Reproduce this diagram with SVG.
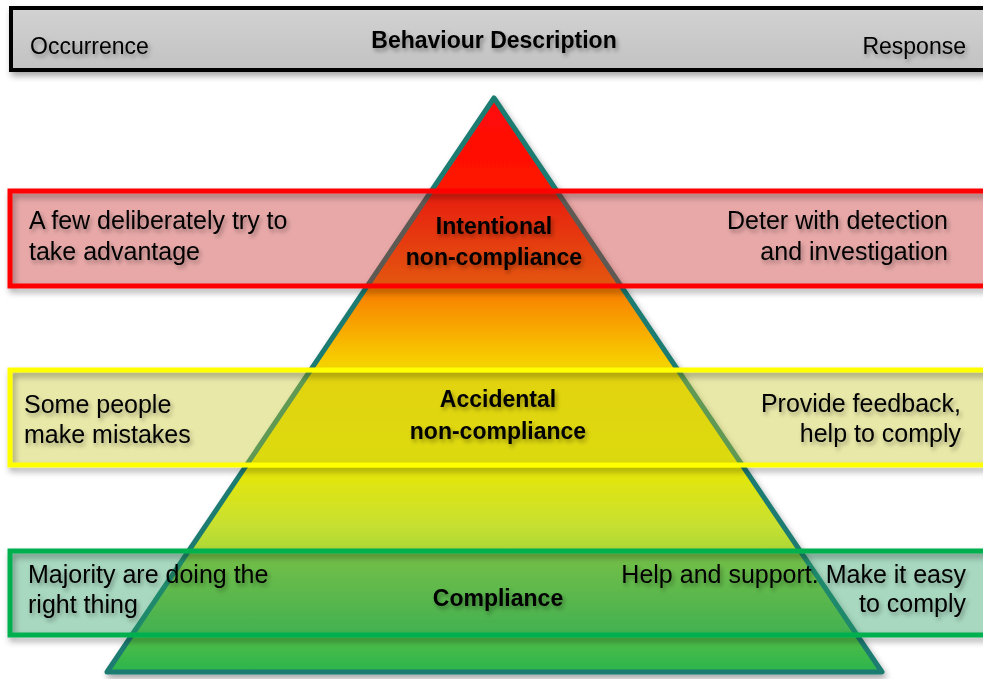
<svg xmlns="http://www.w3.org/2000/svg" width="983" height="679" viewBox="0 0 983 679">
  <defs>
    <style>
      .lbl { font-family: "Liberation Sans", Arial, sans-serif; font-size: 25px; fill: #000; filter: url(#textShadow); }
      .hdr { font-family: "Liberation Sans", Arial, sans-serif; font-size: 23px; fill: #000; filter: url(#textShadow); }
      .ctr { font-family: "Liberation Sans", Arial, sans-serif; font-size: 23px; font-weight: bold; fill: #000; text-anchor: middle; filter: url(#textShadow); }
      .end { text-anchor: end; }
      .frame { fill: none; stroke-width: 5; filter: url(#boxShadow); }
    </style>
    <filter id="textShadow" x="-10%" y="-40%" width="130%" height="200%">
      <feDropShadow dx="2" dy="3" stdDeviation="2" flood-color="#000" flood-opacity="0.35"/>
    </filter>
    <filter id="boxShadow" x="-5%" y="-20%" width="110%" height="150%">
      <feDropShadow dx="2" dy="4" stdDeviation="3" flood-color="#000" flood-opacity="0.35"/>
    </filter>
    <linearGradient id="pyramidFill" gradientUnits="userSpaceOnUse" x1="0" y1="96" x2="0" y2="674">
      <stop offset="0" stop-color="#ff0a0a"/>
      <stop offset="0.16" stop-color="#ff1400"/>
      <stop offset="0.33" stop-color="#f87a00"/>
      <stop offset="0.42" stop-color="#f8b400"/>
      <stop offset="0.48" stop-color="#f6dc00"/>
      <stop offset="0.63" stop-color="#ece800"/>
      <stop offset="0.74" stop-color="#c8e030"/>
      <stop offset="0.87" stop-color="#7cc840"/>
      <stop offset="1" stop-color="#28b44e"/>
    </linearGradient>
    <linearGradient id="headerFill" x1="0" y1="0" x2="0" y2="1">
      <stop offset="0" stop-color="#d2d2d2"/>
      <stop offset="1" stop-color="#c2c2c2"/>
    </linearGradient>
  </defs>

  <!-- header bar, running off the right edge -->
  <g id="header">
    <rect x="11" y="8" width="990" height="62" fill="url(#headerFill)" stroke="#000" stroke-width="4" filter="url(#boxShadow)"/>
    <text class="hdr" x="30" y="54">Occurrence</text>
    <text class="hdr" x="494" y="48" font-weight="bold" text-anchor="middle">Behaviour Description</text>
    <text class="hdr end" x="966" y="54">Response</text>
  </g>

  <!-- pyramid -->
  <g id="pyramid">
    <path d="M494,98 L882,672 L107,672 Z" fill="url(#pyramidFill)" stroke="#1d7b72" stroke-width="5" stroke-linejoin="round" filter="url(#boxShadow)"/>
  </g>

  <!-- intentional non-compliance band -->
  <g id="band-intentional">
    <rect x="10" y="191" width="990" height="95" fill="rgb(197,38,38)" fill-opacity="0.4"/>
    <rect class="frame" x="10" y="191" width="990" height="95" stroke="#ff0000"/>
    <text class="lbl" x="29" y="229">A few deliberately try to</text>
    <text class="lbl" x="29" y="260">take advantage</text>
    <text class="lbl end" x="948" y="229">Deter with detection</text>
    <text class="lbl end" x="948" y="260">and investigation</text>
    <text class="ctr" x="494" y="234">Intentional</text>
    <text class="ctr" x="494" y="265">non-compliance</text>
  </g>

  <!-- accidental non-compliance band -->
  <g id="band-accidental">
    <rect x="10" y="370" width="990" height="95" fill="rgb(197,197,38)" fill-opacity="0.4"/>
    <rect class="frame" x="10" y="370" width="990" height="95" stroke="#ffff00"/>
    <text class="lbl" x="24" y="413">Some people</text>
    <text class="lbl" x="24" y="443">make mistakes</text>
    <text class="lbl end" x="961" y="412">Provide feedback,</text>
    <text class="lbl end" x="961" y="442">help to comply</text>
    <text class="ctr" x="498" y="407">Accidental</text>
    <text class="ctr" x="498" y="439">non-compliance</text>
  </g>

  <!-- compliance band -->
  <g id="band-compliance">
    <rect x="10" y="551" width="990" height="84" fill="rgb(38,157,97)" fill-opacity="0.4"/>
    <rect class="frame" x="10" y="551" width="990" height="84" stroke="#00b050"/>
    <text class="lbl" x="28" y="583">Majority are doing the</text>
    <text class="lbl" x="28" y="613">right thing</text>
    <text class="lbl end" x="966" y="583">Help and support. Make it easy</text>
    <text class="lbl end" x="966" y="612">to comply</text>
    <text class="ctr" x="498" y="606">Compliance</text>
  </g>
</svg>
